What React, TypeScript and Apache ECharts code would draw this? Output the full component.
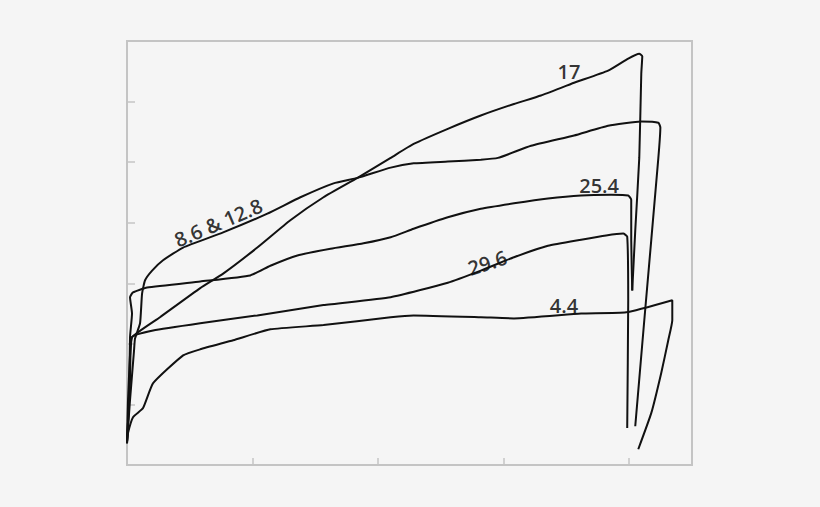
import { useEffect, useRef } from 'react'
import * as echarts from 'echarts'

// curves, [x, y] in axis units (x 0..450, y 0..700)
const curve17: Array<[number, number]> = [
  [0, 38], [0.8, 107], [2.4, 181], [4, 211], [26.3, 244], [58.3, 292], [76.6, 316],
  [103.8, 359], [130.1, 404], [156.5, 442], [183.6, 474], [210, 507], [228.3, 530],
  [255.5, 555], [281.8, 577], [308.2, 596], [329.7, 610], [356.1, 631], [383.2, 651],
  [399.2, 671], [408, 679], [410.4, 675], [409.6, 646], [408, 507], [404.8, 387], [402.4, 288],
]

const curve86: Array<[number, number]> = [
  [0, 36], [2.4, 107], [5.6, 189], [6.4, 209], [10.4, 234], [12, 283], [14.4, 305],
  [20, 321], [28.7, 338], [44.7, 359], [76.6, 384], [111.8, 415], [138.1, 442],
  [164.5, 465], [183.6, 474], [210, 491], [228.3, 498], [255.5, 501], [281.8, 504],
  [295.4, 507], [321.8, 527], [356.1, 544], [383.2, 560], [409.6, 567], [423.2, 565],
  [424.8, 557], [423.2, 507], [412, 239], [404.8, 64],
]

const curve254: Array<[number, number]> = [
  [0, 36], [1.6, 107], [2.4, 211], [4, 250], [2.4, 277], [4.8, 285], [16, 293],
  [58.3, 303], [98.2, 313], [114.2, 329], [135.7, 346], [162.1, 357], [188.4, 366],
  [210, 376], [228.3, 390], [255.5, 409], [281.8, 423], [308.2, 432], [335.3, 440],
  [361.7, 445], [385.6, 446], [399.2, 445], [401.6, 438], [401.6, 371], [402.4, 288],
]

const curve296: Array<[number, number]> = [
  [0, 36], [2.4, 140], [4, 211], [20.8, 222], [58.3, 234], [103.8, 247], [156.5, 264],
  [210, 277], [255.5, 301], [281.8, 321], [308.2, 343], [335.3, 362], [361.7, 372],
  [381.6, 379], [395.2, 382], [398.4, 377], [399.2, 272], [398.4, 61],
]

const curve44: Array<[number, number]> = [
  [0, 38], [0.8, 53], [4.8, 79], [12.8, 94], [20.8, 135], [44.7, 181], [58.3, 191],
  [84.6, 206], [114.2, 224], [156.5, 231], [210, 244], [228.3, 247], [281.8, 244],
  [308.2, 242], [361.7, 250], [397.6, 252], [434.3, 272], [434.3, 239], [431.1, 206],
  [425.5, 152], [417.6, 86], [407.2, 26],
]

const curves = [curve17, curve86, curve254, curve296, curve44]

// curve labels: text, anchor [x, y], rotation in degrees
const labelTexts = ['17', '25.4', '29.6', '4.4', '8.6 & 12.8']
const labelAnchors: Array<[number, number]> = [
  [352, 649], [376, 461], [287, 334], [348, 264], [72.7, 400],
]
const labelRotations = [0, 0, 18, 0, 23]

const xTickStep = 100
const yTickStep = 100

export default function App() {
  const chartRef = useRef<HTMLDivElement>(null)

  useEffect(() => {
    if (!chartRef.current) return
    const chart = echarts.init(chartRef.current, undefined, { renderer: 'svg' })

    const frame = '#c4c4c4'

    const option: echarts.EChartsOption = {
      animation: false,
      backgroundColor: '#f5f5f5',
      grid: {
        left: 127,
        right: 128,
        top: 41,
        bottom: 42,
        show: true,
        borderColor: frame,
        borderWidth: 2,
        backgroundColor: '#f5f5f5',
      },
      xAxis: {
        type: 'value',
        min: 0,
        max: 450,
        interval: xTickStep,
        axisLine: { show: true, lineStyle: { color: frame, width: 2 } },
        axisTick: { show: true, inside: true, length: 7, lineStyle: { color: frame, width: 1.5 } },
        axisLabel: { show: false },
        splitLine: { show: false },
      },
      yAxis: {
        type: 'value',
        min: 0,
        max: 700,
        interval: yTickStep,
        axisLine: { show: true, lineStyle: { color: frame, width: 2 } },
        axisTick: { show: true, inside: true, length: 8, lineStyle: { color: frame, width: 1.5 } },
        axisLabel: { show: false },
        splitLine: { show: false },
      },
      series: [
        ...curves.map((c) => ({
          type: 'line' as const,
          data: c,
          showSymbol: false,
          smooth: 0.15,
          lineStyle: { color: '#111', width: 2 },
        })),
        {
          type: 'scatter',
          symbolSize: 0,
          silent: true,
          data: labelTexts.map((t, i) => ({
            name: t,
            value: labelAnchors[i],
            label: { rotate: labelRotations[i] },
          })),
          label: {
            show: true,
            position: 'inside',
            formatter: '{b}',
            color: '#000',
            textBorderWidth: 0,
            fontSize: 20,
            fontWeight: 600,
            fontFamily: 'Open Sans',
          },
        },
      ],
    }

    chart.setOption(option)
    return () => chart.dispose()
  }, [])

  return (
    <div
      ref={chartRef}
      style={{ position: 'fixed', left: 0, top: 0, width: 820, height: 507 }}
    />
  )
}
